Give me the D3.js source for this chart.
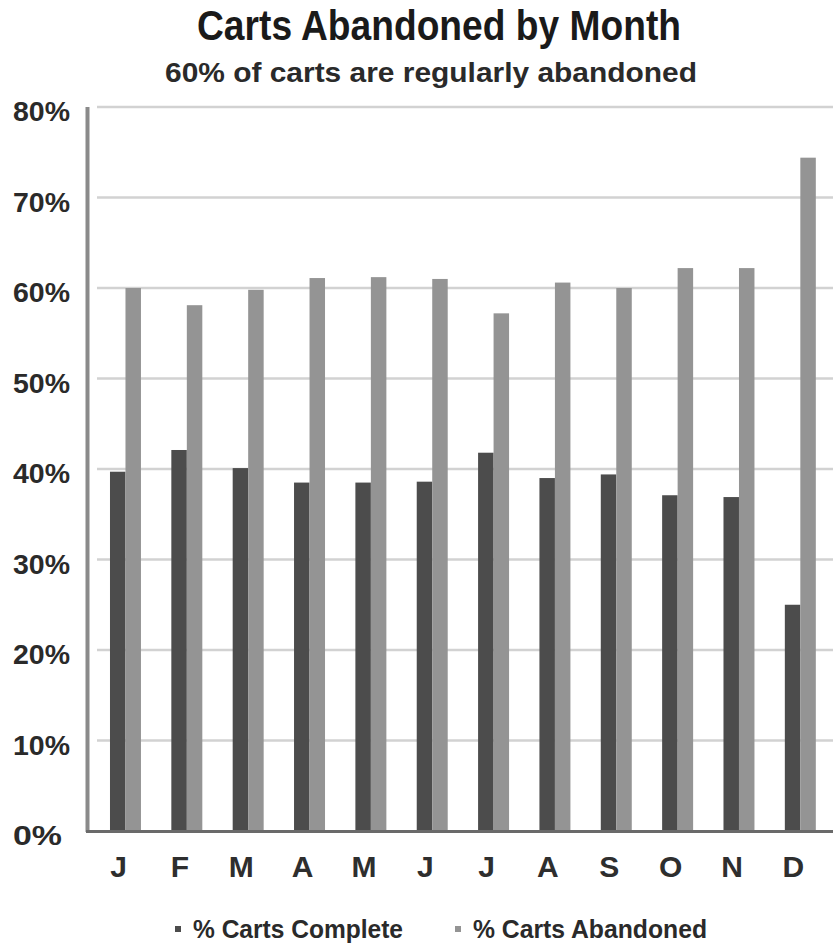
<!DOCTYPE html>
<html>
<head>
<meta charset="utf-8">
<script src="https://cdn.jsdelivr.net/npm/d3@7"></script>
<style>
  html, body { margin: 0; padding: 0; background: #fff; }
  svg { display: block; font-family: "Liberation Sans", Arial, sans-serif; }
</style>
</head>
<body>
<svg id="chart" width="833" height="950"></svg>
<script>
// Monthly cart outcomes (percent of carts)
const months = ["J", "F", "M", "A", "M", "J", "J", "A", "S", "O", "N", "D"];
const completeValues = [39.7, 42.1, 40.1, 38.5, 38.5, 38.6, 41.8, 39.0, 39.4, 37.1, 36.9, 25.0];
const abandonedValues = [60.0, 58.1, 59.8, 61.1, 61.2, 61.0, 57.2, 60.6, 60.0, 62.2, 62.2, 74.4];
const seriesNames = ["% Carts Complete", "% Carts Abandoned"];
const yTicks = [0, 10, 20, 30, 40, 50, 60, 70, 80];

const colors = { complete: "#4c4c4c", abandoned: "#949494" };

const svg = d3.select("#chart");

// month index keys keep the repeated letters distinct
const keys = months.map((m, i) => i);
const x = d3.scaleBand().domain(keys).range([94.8, 831.0]).paddingInner(0.495).paddingOuter(0.2475);
const xInner = d3.scaleBand().domain(["complete", "abandoned"]).range([0, x.bandwidth()]);
const y = d3.scaleLinear().domain([0, 80]).range([831, 107]);

// gridlines
svg.append("g")
  .selectAll("line")
  .data(yTicks.filter(t => t > 0))
  .join("line")
  .attr("x1", 97).attr("x2", 833)
  .attr("y1", d => y(d)).attr("y2", d => y(d))
  .attr("stroke", "#d2d2d2")
  .attr("stroke-width", 2.5);

// bars
const rows = keys.map(i => ({ i, complete: completeValues[i], abandoned: abandonedValues[i] }));
const groups = svg.append("g")
  .selectAll("g")
  .data(rows)
  .join("g")
  .attr("transform", d => `translate(${x(d.i)},0)`);

groups.selectAll("rect")
  .data(d => ["complete", "abandoned"].map(k => ({ k, v: d[k] })))
  .join("rect")
  .attr("x", d => xInner(d.k))
  .attr("width", xInner.bandwidth())
  .attr("y", d => y(d.v))
  .attr("height", d => y(0) - y(d.v))
  .attr("fill", d => colors[d.k]);

// axis frame: left spine and baseline
svg.append("line")
  .attr("x1", 87.5).attr("x2", 87.5)
  .attr("y1", y(80)).attr("y2", y(0) + 1)
  .attr("stroke", "#8a8a8a").attr("stroke-width", 4);
svg.append("line")
  .attr("x1", 86).attr("x2", 833)
  .attr("y1", y(0) + 0.5).attr("y2", y(0) + 0.5)
  .attr("stroke", "#6a6a6a").attr("stroke-width", 3);

// y tick labels (condensed by fitting to a fixed width)
svg.append("g")
  .selectAll("text")
  .data(yTicks)
  .join("text")
  .attr("x", 13)
  .attr("y", d => y(d) + 14)
  .attr("font-size", 27)
  .attr("font-weight", "bold")
  .attr("fill", "#2a2a2a")
  .attr("textLength", d => d === 0 ? 49 : 57)
  .attr("lengthAdjust", "spacingAndGlyphs")
  .text(d => d + "%");

// month labels
svg.append("g")
  .selectAll("text")
  .data(keys)
  .join("text")
  .attr("x", d => x(d) + x.bandwidth() / 2 - 7)
  .attr("y", 877)
  .attr("text-anchor", "middle")
  .attr("font-size", 30)
  .attr("font-weight", "bold")
  .attr("fill", "#2e2e2e")
  .text(d => months[d]);

// title and subtitle
svg.append("text")
  .attr("x", 197).attr("y", 40)
  .attr("font-size", 42)
  .attr("font-weight", "bold")
  .attr("fill", "#1a1a1a")
  .attr("textLength", 484)
  .attr("lengthAdjust", "spacingAndGlyphs")
  .text("Carts Abandoned by Month");

svg.append("text")
  .attr("x", 165).attr("y", 82)
  .attr("font-size", 28)
  .attr("font-weight", "bold")
  .attr("fill", "#2a2a2a")
  .attr("textLength", 532)
  .attr("lengthAdjust", "spacingAndGlyphs")
  .text("60% of carts are regularly abandoned");

// legend
const legendItems = [
  { name: seriesNames[0], color: colors.complete, mx: 175, tx: 193, w: 210 },
  { name: seriesNames[1], color: colors.abandoned, mx: 455, tx: 473, w: 234 }
];
const legend = svg.append("g").selectAll("g").data(legendItems).join("g");
legend.append("rect")
  .attr("x", d => d.mx).attr("y", 926)
  .attr("width", 6).attr("height", 6)
  .attr("fill", d => d.color);
legend.append("text")
  .attr("x", d => d.tx).attr("y", 938)
  .attr("font-size", 25)
  .attr("font-weight", "bold")
  .attr("fill", "#2a2a2a")
  .attr("textLength", d => d.w)
  .attr("lengthAdjust", "spacingAndGlyphs")
  .text(d => d.name);
</script>
</body>
</html>
